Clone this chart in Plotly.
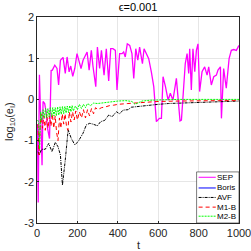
import plotly.graph_objects as go

# ---------------- data ----------------
sep_t = [2, 6, 12, 18, 25, 30, 38, 45, 52, 62, 70, 76, 88, 99, 107, 116, 129, 140, 149, 159,
         167, 177, 187, 198, 208, 218, 228, 239, 248, 258, 269, 277, 291, 299, 310, 319, 332, 343, 355, 365,
         376, 388, 396, 409, 421, 429, 437, 447, 459, 470, 479, 489, 499, 508, 522, 530, 541, 553, 566, 578,
         591, 599, 606, 616, 624, 636, 649, 660, 673, 690, 708, 715, 726, 734, 743, 751, 756, 764, 772, 781,
         789, 797, 805, 817, 830, 842, 850, 863, 875, 888, 896, 908, 913, 924, 937, 951, 962, 974, 987, 1000]
sep_v = [-0.6, -2.5, 0.6, -0.5, -1.6, -0.05, -0.1, -0.3, -0.7, -0.95, 0.7, 0.71, 0.83, 0.75, 0.35, 0.95, 1.02, 0.63, 1.03, 0.67,
         0.81, 0.56, 0.75, 1.11, 0.91, 0.75, 0.95, 1.07, 1.15, 0.71, 1.19, 0.81, 0.31, 1.27, 0.75, 1.19, 0.59, 1.23, 0.45, 1.23,
         1.23, 1.19, 0.23, 1.11, 1.11, 1.15, 1.03, 1.35, 1.31, 1.11, 0.51, 1.23, 0.95, 1.27, 0.87, 1.23, 1.11, 0.99, 0.67, 0.31,
         -0.54, -0.5, -0.46, -0.46, 0.55, 0.31, -0.02, 0.15, -0.02, 0.51, -0.52, -0.5, 0.39, 0.87, 1.11, 0.63, 1.23, 0.23, 1.23, 0.67,
         1.19, 1.35, 0.19, 0.67, 0.79, 0.59, 0.79, 0.35, 0.55, 0.59, 0.71, 0.79, -0.46, 0.75, 0.27, 0.99, 1.19, 1.21, 1.19, 1.31]

boris_t = []
boris_v = []

avf_t = [5, 12, 22, 41, 58, 74, 91, 104, 116, 126, 140, 154, 170, 187, 203, 228, 244, 261, 277, 299,
         315, 335, 355, 372, 393, 409, 426, 451, 467, 500, 550, 600, 650, 700, 800, 900, 1000]
avf_v = [-1.27, -1.35, -1.21, -1.21, -1.07, -1.27, -1.04, -1.15, -1.35, -2.08, -1.47, -0.74, -0.95, -1.1, -1.03, -0.82, -0.62, -0.58, -0.6, -0.64,
         -0.54, -0.51, -0.38, -0.42, -0.3, -0.35, -0.26, -0.25, -0.19, -0.17, -0.14, -0.12, -0.1, -0.09, -0.07, -0.05, -0.04]

m1_t = [5, 10, 15, 20, 27, 34, 41, 48, 55, 62, 69, 76, 83, 90, 97, 104, 111, 118, 125, 132,
        139, 146, 153, 160, 168, 176, 184, 192, 200, 210, 220, 230, 240, 250, 260, 270, 280, 290, 300, 320,
        340, 360, 380, 400, 450, 500, 550, 600, 700, 800, 900, 1000]
m1_v = [-0.6, -1.35, -0.7, -0.35, -0.7, -0.4, -0.75, -0.35, -0.7, -0.4, -0.65, -0.35, -0.7, -0.4, -0.8, -1.0, -0.45, -0.7, -0.35, -0.6,
        -0.35, -0.65, -0.75, -0.3, -0.55, -0.3, -0.5, -0.28, -0.5, -0.3, -0.45, -0.25, -0.45, -0.25, -0.4, -0.22, -0.35, -0.2, -0.25, -0.2,
        -0.18, -0.15, -0.14, -0.12, -0.1, -0.08, -0.06, -0.05, -0.04, -0.03, -0.03, -0.03]

m2_t = [3, 8, 13, 18, 24, 30, 36, 42, 48, 54, 60, 66, 72, 78, 84, 90, 96, 102, 108, 114,
        120, 126, 132, 138, 144, 150, 156, 162, 168, 174, 180, 190, 200, 210, 220, 230, 240, 250, 265, 280,
        300, 330, 360, 400, 440, 470, 485, 500, 520, 560, 600, 700, 800, 900, 1000]
m2_v = [-0.5, -0.55, -1.2, -0.3, -0.5, -0.25, -0.45, -0.22, -0.45, -0.22, -0.42, -0.2, -0.42, -0.2, -0.4, -0.2, -0.4, -0.18, -0.38, -0.18,
        -0.36, -0.17, -0.35, -0.17, -0.33, -0.16, -0.32, -0.15, -0.3, -0.15, -0.28, -0.16, -0.25, -0.12, -0.22, -0.12, -0.2, -0.1, -0.15, -0.09,
        -0.1, -0.08, -0.06, -0.04, -0.03, -0.05, -0.12, -0.08, -0.04, -0.02, -0.01, 0.0, 0.0, 0.0, 0.0]

series_names = ["SEP", "Boris", "AVF", "M1-B", "M2-B"]
x_ticks = [0, 200, 400, 600, 800, 1000]
y_ticks = [-3, -2, -1, 0, 1, 2]

# ---------------- styles ----------------
styles = [
    dict(color="#FF00FF", width=1.3, dash="solid"),
    dict(color="#0000FF", width=1.0, dash="solid"),
    dict(color="#000000", width=1.0, dash="3px,1px,1px,1px"),
    dict(color="#FF0000", width=1.0, dash="4px,3px"),
    dict(color="#00FF00", width=1.0, dash="2px,1px"),
]
data = [(sep_t, sep_v), (boris_t, boris_v), (avf_t, avf_v), (m1_t, m1_v), (m2_t, m2_v)]

fig = go.Figure()
for name, (tt, vv), st in zip(series_names, data, styles):
    fig.add_trace(go.Scatter(x=tt, y=vv, mode="lines", name=name, line=st,
                             showlegend=False, hoverinfo="skip"))

font_family = "Liberation Sans, Arial, sans-serif"
fig.update_layout(
    width=251, height=251,
    margin=dict(l=37, r=12, t=17, b=28),
    paper_bgcolor="white", plot_bgcolor="white",
    font=dict(family=font_family, size=11, color="#262626"),
    title=dict(text="\u03f5=0.001", x=0.55, xanchor="center", y=0.985, yanchor="top",
               font=dict(size=11, color="#000000")),
    showlegend=False,
)
fig.update_xaxes(range=[0, 1000], tickvals=x_ticks, ticktext=[str(v) for v in x_ticks],
                 ticklabeloverflow="allow", automargin=False,
                 showgrid=True, gridcolor="#E6E6E6", gridwidth=1, zeroline=False,
                 showline=True, linecolor="#262626", linewidth=0.6, mirror=True,
                 ticks="inside", ticklen=2, tickcolor="#262626")
fig.update_yaxes(range=[-3, 2], tickvals=y_ticks, ticktext=[str(v) for v in y_ticks],
                 showgrid=True, gridcolor="#E6E6E6", gridwidth=1, zeroline=False,
                 showline=True, linecolor="#262626", linewidth=0.6, mirror=True,
                 ticks="inside", ticklen=2, tickcolor="#262626")

# axis titles as annotations (keeps margins fixed)
fig.add_annotation(xref="paper", yref="paper", x=0, y=0.49, xshift=-27, text="log<sub>10</sub>(e<sub>I</sub>)",
                   textangle=-90, showarrow=False, xanchor="center", yanchor="middle",
                   font=dict(size=11, color="#262626"))
fig.add_annotation(xref="paper", yref="paper", x=0.5, y=0, yshift=-22, text="t",
                   showarrow=False, xanchor="center", yanchor="middle",
                   font=dict(size=11, color="#262626"))

# ---------------- custom compact legend ----------------
lx0, lx1, ly0, ly1 = 0.79, 1.0, 0.0, 0.248
fig.add_shape(type="rect", xref="paper", yref="paper", x0=lx0, x1=lx1, y0=ly0, y1=ly1,
              line=dict(color="#262626", width=0.6), fillcolor="white", layer="above")
entry_y = [0.222, 0.170, 0.124, 0.077, 0.033]
for name, st, ey in zip(series_names, styles, entry_y):
    fig.add_shape(type="line", xref="paper", yref="paper", x0=0.80, x1=0.885, y0=ey, y1=ey,
                  line=dict(color=st["color"], width=1.0, dash=st["dash"]), layer="above")
    fig.add_annotation(xref="paper", yref="paper", x=0.888, y=ey, text=name, showarrow=False,
                       xanchor="left", yanchor="middle", xshift=-1,
                       font=dict(size=8, color="#000000"))

fig.write_html("out.html", config={"displayModeBar": False},
               post_script="document.body.style.margin='0';")
